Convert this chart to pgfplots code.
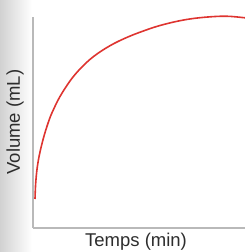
\documentclass[border=0pt]{standalone}
\usepackage{fontspec}
\setmainfont{Liberation Sans}
\usepackage{pgfplots}
\pgfplotsset{compat=1.18}
\definecolor{axgray}{RGB}{185,185,185}
\definecolor{curvered}{RGB}{222,52,48}
\definecolor{txt}{RGB}{45,45,45}
\begin{document}
\begin{tikzpicture}
\useasboundingbox (0,0) rectangle (245pt,252pt);
\shade[left color=black!18, right color=white] (0,0) rectangle (32pt,252pt);
\begin{axis}[
  at={(33.5pt,24pt)}, anchor=south west,
  scale only axis, width=215pt, height=211pt,
  xmin=0, xmax=215, ymin=0, ymax=211,
  axis x line=bottom, axis y line=left,
  axis line style={axgray, line width=2pt, -},
  xtick=\empty, ytick=\empty,
  clip=false,
  xlabel={Temps (min)}, ylabel={Volume (mL)},
  label style={font=\fontsize{18.5}{22}\selectfont, text=txt},
  xlabel style={at={(axis description cs:0.477,0)}, anchor=center, yshift=-13.5pt},
  ylabel style={at={(axis description cs:0,0.502)}, anchor=center, yshift=18.5pt},
]
\addplot[curvered, line width=1.6pt, smooth, tension=0.6] coordinates {
(1.5,29) (2.2,45) (3.8,61) (6.5,76) (10.8,93) (15.8,108.5) (20,118.5) (26.5,131.5) (36.5,147) (46.5,159) (59.8,171.3) (76.5,182.3) (93.2,190.5) (109.8,197) (126.5,202.5) (146.5,207.3) (166.5,210.3) (191.5,211.8) (211.5,210.2) (220,209.3)
};
\end{axis}
\end{tikzpicture}
\end{document}
